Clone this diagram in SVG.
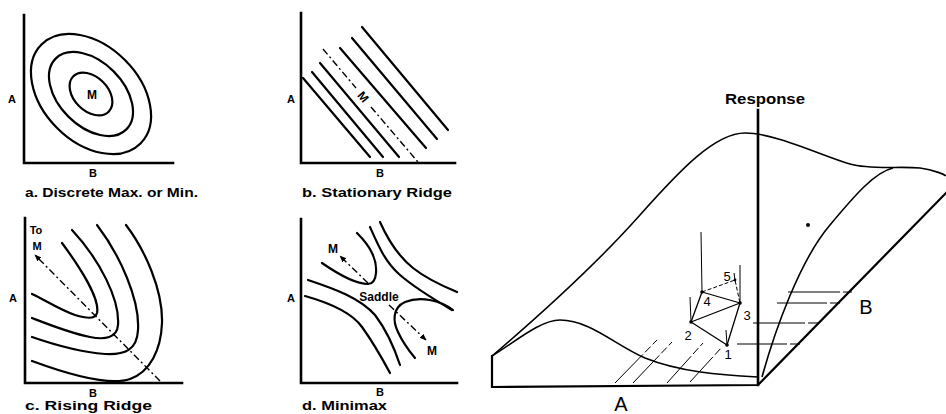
<svg xmlns="http://www.w3.org/2000/svg" width="946" height="414" viewBox="0 0 946 414">
<defs>
<marker id="arr" viewBox="0 0 10 10" refX="9" refY="5" markerWidth="7" markerHeight="7" orient="auto" markerUnits="userSpaceOnUse">
<path d="M0,1 L10,5 L0,9 Z" fill="#000"/>
</marker>
<style>
.ax{stroke:#000;stroke-width:2.6;fill:none;stroke-linecap:square}
.c{stroke:#000;stroke-width:2.2;fill:none;stroke-linecap:round}
.dd{stroke:#000;stroke-width:1.4;fill:none;stroke-dasharray:7 3 2 3}
.s{stroke:#000;stroke-width:1.6;fill:none;stroke-linejoin:round}
.t{stroke:#000;stroke-width:1;fill:none}
.tx{font-family:"Liberation Sans",Arial,sans-serif;font-weight:bold;fill:#000}
.lb{font-size:13px}
.al{font-size:11px}
.big{font-family:"Liberation Sans",Arial,sans-serif;font-size:20px;fill:#000}
.num{font-family:"Liberation Sans",Arial,sans-serif;font-size:13px;fill:#000}
</style>
</defs>
<rect width="946" height="414" fill="#fff"/>

<g id="panel-a">
<path class="ax" d="M24,15 L24,163 L173,163"/>
<ellipse class="c" cx="91" cy="94" rx="70" ry="48" transform="rotate(45 91 94)"/>
<ellipse class="c" cx="91" cy="94" rx="50" ry="32" transform="rotate(45 91 94)"/>
<ellipse class="c" cx="91" cy="94" rx="25" ry="17" transform="rotate(45 91 94)"/>
<text class="tx" x="92" y="99" font-size="12" text-anchor="middle">M</text>
<text class="tx al" x="12" y="103" text-anchor="middle">A</text>
<text class="tx al" x="93" y="177" text-anchor="middle">B</text>
<text class="tx lb" x="25" y="197" textLength="173" lengthAdjust="spacingAndGlyphs">a. Discrete  Max. or Min.</text>
</g>

<g id="panel-b">
<path class="ax" d="M301,13 L301,163 L455,163"/>
<line class="c" x1="303" y1="78" x2="370" y2="157"/>
<line class="c" x1="312" y1="72" x2="383" y2="157"/>
<line class="c" x1="320" y1="63" x2="399" y2="157"/>
<line class="c" x1="340" y1="48" x2="426" y2="148"/>
<line class="c" x1="352" y1="38" x2="437" y2="139"/>
<line class="c" x1="362" y1="27" x2="448" y2="130"/>
<line class="dd" x1="323" y1="49" x2="356" y2="88"/>
<line class="dd" x1="371" y1="107" x2="418" y2="162"/>
<text class="tx" x="363" y="101" font-size="12" text-anchor="middle" transform="rotate(50 363 97)">M</text>
<text class="tx al" x="291" y="103" text-anchor="middle">A</text>
<text class="tx al" x="380" y="177" text-anchor="middle">B</text>
<text class="tx lb" x="302" y="197" textLength="150" lengthAdjust="spacingAndGlyphs">b. Stationary  Ridge</text>
</g>

<g id="panel-c">
<path class="ax" d="M25,218 L25,383 L182,383"/>
<path class="c" d="M62,243 C82,270 100,300 97,313 C95,320 85,318 75,315 C60,310 45,300 32,294"/>
<path class="c" d="M72,230 C100,260 120,300 118,325 C117,338 105,340 90,337 C70,333 50,325 32,318"/>
<path class="c" d="M97,225 C120,255 140,300 138,330 C137,350 125,355 105,354 C80,352 55,345 32,337"/>
<path class="c" d="M126,225 C145,250 163,290 162,323 C161,350 150,372 130,379 C110,386 70,375 32,361"/>
<line class="dd" x1="160" y1="381" x2="35" y2="255" marker-end="url(#arr)"/>
<text class="tx" x="36" y="234" font-size="11" text-anchor="middle">To</text>
<text class="tx" x="37" y="250" font-size="11" text-anchor="middle">M</text>
<text class="tx al" x="13" y="302" text-anchor="middle">A</text>
<text class="tx al" x="93" y="397" text-anchor="middle">B</text>
<text class="tx lb" x="25" y="410" textLength="127" lengthAdjust="spacingAndGlyphs">c. Rising  Ridge</text>
</g>

<g id="panel-d">
<path class="ax" d="M301,219 L301,383 L457,383"/>
<path class="c" d="M322,263 C335,272 355,284 368,284 C378,284 378,265 372,253 C368,244 362,238 357,233"/>
<path class="c" d="M453,310 C440,300 420,296 405,302 C392,308 393,322 398,332 C403,343 410,352 415,358"/>
<path class="c" d="M308,280 C335,289 360,298 375,315 C388,332 395,350 400,365"/>
<path class="c" d="M305,296 C330,303 352,313 362,327 C375,345 383,360 390,373"/>
<path class="c" d="M370,227 C378,245 385,262 400,275 C415,288 435,300 452,310"/>
<path class="c" d="M380,222 C388,240 398,256 413,268 C428,280 445,287 457,292"/>
<line class="dd" x1="368" y1="283" x2="340" y2="256" marker-end="url(#arr)"/>
<line class="dd" x1="389" y1="305" x2="426" y2="340" marker-end="url(#arr)"/>
<text class="tx" x="333" y="253" font-size="12" text-anchor="middle">M</text>
<text class="tx" x="432" y="355" font-size="12" text-anchor="middle">M</text>
<text class="tx" x="379" y="301" font-size="12" text-anchor="middle">Saddle</text>
<text class="tx al" x="291" y="302" text-anchor="middle">A</text>
<text class="tx al" x="380" y="396" text-anchor="middle">B</text>
<text class="tx lb" x="302" y="410" textLength="85" lengthAdjust="spacingAndGlyphs">d. Minimax</text>
</g>

<g id="surface">
<path class="ax" d="M758,110 L758,385"/>
<path class="ax" d="M492,356 L492,387 L758,385 L946,193" style="stroke-width:2.2;stroke-linejoin:miter"/>
<path class="s" d="M492,356 C540,315 600,260 640,215 C680,170 715,133 745,133 C775,133 820,155 850,164 C870,170 900,166 920,168 C935,170 945,175 946,176"/>
<path class="s" d="M492,356 C515,342 540,320 560,320 C590,320 615,345 645,358 C680,372 720,375 758,377"/>
<path class="s" d="M762,377 C775,330 800,260 830,225 C855,195 875,172 893,168"/>
<circle cx="808" cy="225" r="2" fill="#000"/>
<text class="tx" x="765" y="104" font-size="14" text-anchor="middle" textLength="80" lengthAdjust="spacingAndGlyphs">Response</text>
<text class="big" x="621" y="411" text-anchor="middle">A</text>
<text class="big" x="866" y="314" text-anchor="middle">B</text>
</g>

<g id="grid-lines">
<line class="t" x1="615" y1="383" x2="657" y2="340" stroke-dasharray="40 3 8 3"/>
<line class="t" x1="633" y1="383" x2="672" y2="342" stroke-dasharray="38 3 8 3"/>
<line class="t" x1="667" y1="383" x2="703" y2="343" stroke-dasharray="36 3 8 3"/>
<line class="t" x1="690" y1="382" x2="722" y2="347" stroke-dasharray="34 3 8 3"/>
<line class="t" x1="737" y1="344" x2="800" y2="344" stroke-dasharray="50 3 10"/>
<line class="t" x1="753" y1="323" x2="818" y2="323" stroke-dasharray="52 3 10"/>
<line class="t" x1="777" y1="303" x2="840" y2="303" stroke-dasharray="50 3 10"/>
<line class="t" x1="788" y1="292" x2="852" y2="292" stroke-dasharray="52 3 10"/>
</g>

<g id="simplex">
<line class="t" x1="701" y1="232" x2="702" y2="292"/>
<line class="t" x1="740" y1="265" x2="740" y2="303"/>
<line class="t" x1="690" y1="297" x2="691" y2="322"/>
<line class="t" x1="726" y1="330" x2="727" y2="345"/>
<line class="t" x1="734" y1="273" x2="735" y2="280"/>
<path class="s" d="M691,322 L727,345 L740,303 Z" style="stroke-width:1.3"/>
<path class="s" d="M691,322 L702,292 L740,303" style="stroke-width:1.3"/>
<path class="t" d="M702,292 L735,280 L740,303" stroke-dasharray="4 2"/>
<circle cx="727" cy="345" r="1.8" fill="#000"/>
<circle cx="691" cy="322" r="1.8" fill="#000"/>
<circle cx="740" cy="303" r="1.8" fill="#000"/>
<circle cx="702" cy="292" r="1.8" fill="#000"/>
<circle cx="735" cy="280" r="1.4" fill="#000"/>
<text class="num" x="728" y="359" text-anchor="middle">1</text>
<text class="num" x="688" y="340" text-anchor="middle">2</text>
<text class="num" x="747" y="320" text-anchor="middle">3</text>
<text class="num" x="707" y="306" text-anchor="middle">4</text>
<text class="num" x="727" y="281" text-anchor="middle">5</text>
</g>
</svg>
